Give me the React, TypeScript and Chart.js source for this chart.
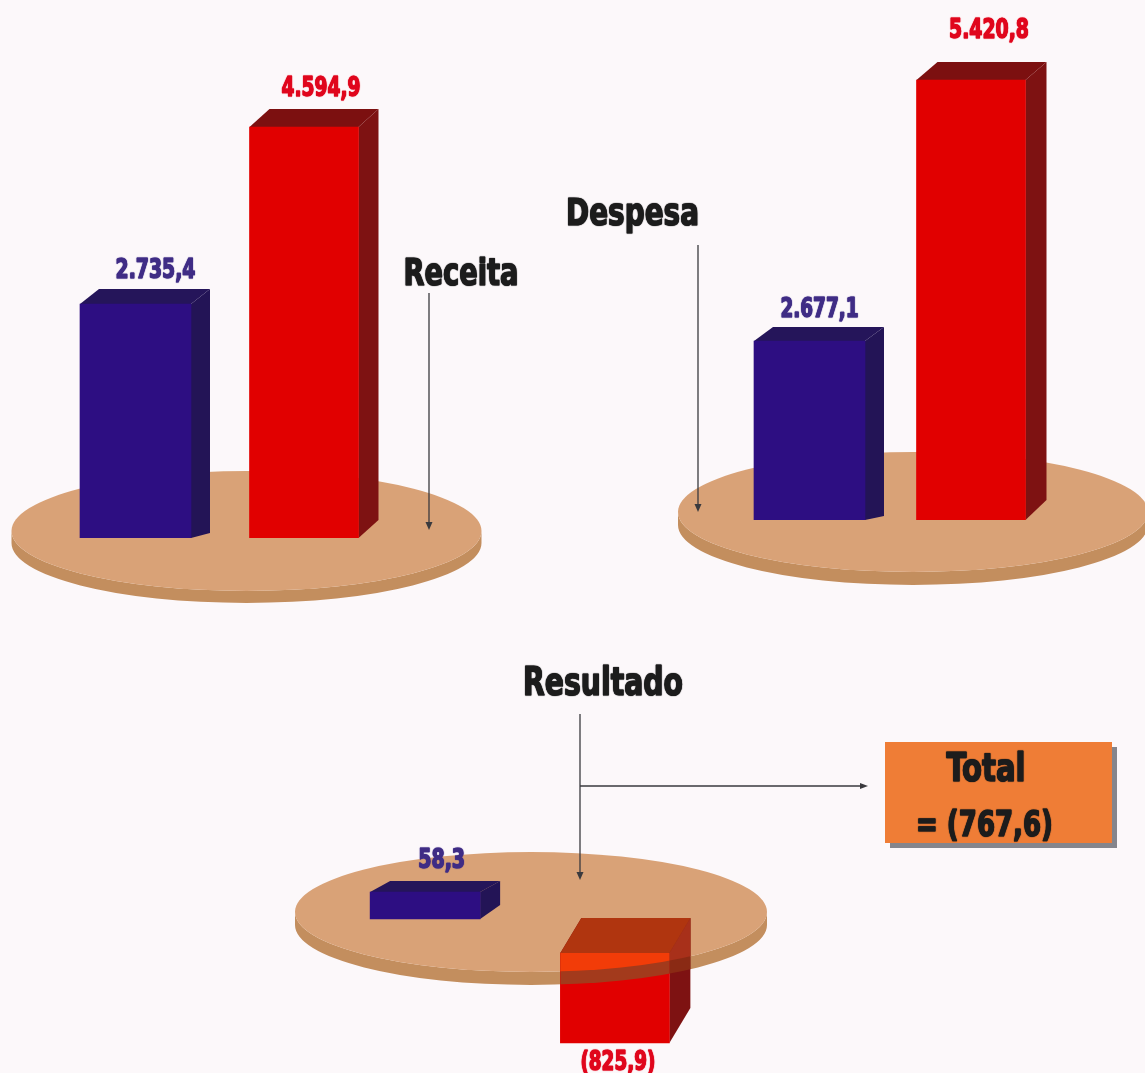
import React, { useEffect, useRef } from "react";
import { Chart, registerables } from "chart.js";

Chart.register(...registerables);

// ---- Data ----
const categories = ["Azul", "Vermelho"];
const receitaValues = [2735.4, 4594.9];
const despesaValues = [2677.1, 5420.8];
const resultadoValues = [58.3, -825.9];
const totalLabel = "= (767,6)";

// ---- Colours ----
const PAGE = "#fcf8fa";
const BLUE = { front: "#2d0e82", side: "#231456", top: "#25155a" };
const RED = { front: "#e10000", side: "#7e1212", top: "#7c1010" };
const PLATE_TOP = "#d9a277";
const PLATE_EDGE = "#c38e5e";
const INK = "#1c1c1c";
const BLUE_TEXT = "#3f2c85";
const RED_TEXT = "#e0061c";
const FONT = '"Liberation Sans Narrow", "DejaVu Sans Condensed", sans-serif';

function fmt(v: number) {
  const s = Math.abs(v).toFixed(1).replace(".", ",");
  const [i, d] = s.split(",");
  const t = i.replace(/\B(?=(\d{3})+$)/g, ".");
  return v < 0 ? `(${t},${d})` : `${t},${d}`;
}

function text(ctx: any, str: string, cx: number, base: number, width: number, size: number, color: string, heavy = 1.1) {
  ctx.save();
  ctx.font = `bold ${size}px ${FONT}`;
  ctx.textAlign = "left";
  ctx.textBaseline = "alphabetic";
  const w = ctx.measureText(str).width;
  const k = width / w;
  ctx.translate(cx - width / 2, base);
  ctx.scale(k, 1);
  ctx.fillStyle = color;
  ctx.strokeStyle = color;
  ctx.lineWidth = heavy;
  ctx.lineJoin = "round";
  ctx.shadowColor = color;
  ctx.shadowBlur = 1;
  ctx.strokeText(str, 0, 0);
  ctx.fillText(str, 0, 0);
  ctx.restore();
}

function arrowV(ctx: any, x: number, y0: number, y1: number) {
  ctx.save();
  ctx.strokeStyle = "#3a3a3e";
  ctx.fillStyle = "#3a3a3e";
  ctx.lineWidth = 1.3;
  ctx.beginPath();
  ctx.moveTo(x, y0);
  ctx.lineTo(x, y1 - 6);
  ctx.stroke();
  ctx.beginPath();
  ctx.moveTo(x - 3.5, y1 - 8);
  ctx.lineTo(x + 3.5, y1 - 8);
  ctx.lineTo(x, y1);
  ctx.closePath();
  ctx.fill();
  ctx.restore();
}

function plate(ctx: any, p: any) {
  ctx.save();
  ctx.fillStyle = PLATE_EDGE;
  ctx.beginPath();
  ctx.ellipse(p.cx, p.cy + p.t, p.rx, p.ry, 0, 0, Math.PI);
  ctx.lineTo(p.cx - p.rx, p.cy);
  ctx.ellipse(p.cx, p.cy, p.rx, p.ry, 0, Math.PI, 0, true);
  ctx.closePath();
  ctx.fill();
  ctx.fillStyle = PLATE_TOP;
  ctx.beginPath();
  ctx.ellipse(p.cx, p.cy, p.rx, p.ry, 0, 0, Math.PI * 2);
  ctx.fill();
  ctx.restore();
}

function poly(ctx: any, pts: number[][], color: string) {
  ctx.fillStyle = color;
  ctx.beginPath();
  pts.forEach(([x, y], i) => (i ? ctx.lineTo(x, y) : ctx.moveTo(x, y)));
  ctx.closePath();
  ctx.fill();
}

function boxFaces(bar: any, d: any) {
  const l = bar.x - bar.width / 2;
  const r = bar.x + bar.width / 2;
  const top = Math.min(bar.y, bar.base);
  const bot = Math.max(bar.y, bar.base);
  return {
    l, r, top, bot,
    side: [[r, top], [r + d.dx, top - d.dy], [r + d.dx, bot - d.bd], [r, bot]],
    topFace: [[l, top], [l + d.dx, top - d.dy], [r + d.dx, top - d.dy], [r, top]],
    front: [[l, top], [r, top], [r, bot], [l, bot]],
  };
}

const panels: any[] = [
  {
    values: receitaValues,
    padding: { left: 51.25, right: 1145 - 388.25, top: 40, bottom: 1073 - 538 },
    blueAxis: { min: 0, max: 5821.6 },
    redAxis: { min: 0, max: 5567.6 },
    thickness: [111, 109],
    plate: { cx: 246.5, cy: 531, rx: 235, ry: 60, t: 12 },
    depth: [{ dx: 19, dy: 15, bd: 5 }, { dx: 20, dy: 18, bd: 18 }],
    label: [{ dx: 20, up: 27, w: 80 }, { dx: 17, up: 32, w: 79 }],
    extra: (ctx: any) => {
      text(ctx, "Receita", 461, 285, 115, 38, INK);
      arrowV(ctx, 429, 293, 530);
    },
  },
  {
    values: despesaValues,
    padding: { left: 728.75, right: 1145 - 1051.75, top: 40, bottom: 1073 - 520 },
    blueAxis: { min: 0, max: 7178.8 },
    redAxis: { min: 0, max: 5913.6 },
    thickness: [111, 109],
    plate: { cx: 913, cy: 512, rx: 235, ry: 60, t: 13 },
    depth: [{ dx: 19, dy: 14, bd: 4 }, { dx: 21, dy: 18, bd: 20 }],
    label: [{ dx: 10, up: 25, w: 78 }, { dx: 18, up: 43, w: 80 }],
    extra: (ctx: any) => {
      text(ctx, "Despesa", 632.5, 225, 133, 38, INK);
      arrowV(ctx, 698, 245, 512);
    },
  },
  {
    values: resultadoValues,
    padding: { left: 330.25, right: 1145 - 709.75, top: 853, bottom: 20 },
    blueAxis: { min: -289.4, max: 142.5 },
    redAxis: { min: -917.7, max: 917.7 },
    thickness: [110, 109],
    plate: { cx: 531, cy: 912, rx: 236, ry: 60, t: 13 },
    depth: [{ dx: 20, dy: 11, bd: 14 }, { dx: 21, dy: 35, bd: 35 }],
    label: [{ dx: 16.5, up: 25, w: 47 }, { dx: 3, up: -26, w: 75 }],
    tint: {
      surface: { front: "#f23c08", side: "#a8301a", top: "#b0350f" },
      edge: { front: "#a33a1c", side: "#8a2a14", top: "#b0350f" },
    },
    extra: (ctx: any) => {
      text(ctx, "Resultado", 603, 695, 160, 39, INK);
      ctx.save();
      ctx.strokeStyle = "#3a3a3e";
      ctx.fillStyle = "#3a3a3e";
      ctx.lineWidth = 1.3;
      ctx.beginPath();
      ctx.moveTo(580, 786);
      ctx.lineTo(862, 786);
      ctx.stroke();
      ctx.beginPath();
      ctx.moveTo(860, 783);
      ctx.lineTo(860, 789);
      ctx.lineTo(868, 786);
      ctx.closePath();
      ctx.fill();
      ctx.fillStyle = "#85858c";
      ctx.fillRect(890, 747, 227, 101);
      ctx.fillStyle = "#ef7d36";
      ctx.fillRect(885, 742, 227, 101);
      ctx.restore();
      arrowV(ctx, 580, 714, 880);
      text(ctx, "Total", 986, 781, 79, 39, INK);
      text(ctx, totalLabel, 984.5, 836, 137, 36, INK);
    },
  },
];

function makePlugin(p: any) {
  return {
    id: "box3d",
    beforeDatasetsDraw(chart: any) {
      const ctx = chart.ctx;
      ctx.save();
      plate(ctx, p.plate);
      [0, 1].forEach((ds) => {
        const bar = chart.getDatasetMeta(ds).data[ds];
        const f = boxFaces(bar, p.depth[ds]);
        const c = ds === 0 ? BLUE : RED;
        poly(ctx, f.side, c.side);
        poly(ctx, f.topFace, c.top);
      });
      ctx.restore();
    },
    afterDatasetsDraw(chart: any) {
      const ctx = chart.ctx;
      if (p.tint) {
        const bar = chart.getDatasetMeta(1).data[1];
        const f = boxFaces(bar, p.depth[1]);
        const pl = p.plate;
        // the plate rim, seen through the bar
        ctx.save();
        ctx.beginPath();
        ctx.ellipse(pl.cx, pl.cy + pl.t, pl.rx, pl.ry, 0, 0, Math.PI * 2);
        ctx.clip();
        poly(ctx, f.side, p.tint.edge.side);
        poly(ctx, f.front, p.tint.edge.front);
        ctx.restore();
        // the plate surface, seen through the bar
        ctx.save();
        ctx.beginPath();
        ctx.ellipse(pl.cx, pl.cy, pl.rx, pl.ry, 0, 0, Math.PI * 2);
        ctx.clip();
        poly(ctx, f.side, p.tint.surface.side);
        poly(ctx, f.topFace, p.tint.surface.top);
        poly(ctx, f.front, p.tint.surface.front);
        ctx.restore();
      }
      p.extra(ctx);
      [0, 1].forEach((ds) => {
        const bar = chart.getDatasetMeta(ds).data[ds];
        const l = p.label[ds];
        text(ctx, fmt(p.values[ds]), bar.x + l.dx, bar.y - l.up + 1, l.w, 26, ds === 0 ? BLUE_TEXT : RED_TEXT, 1);
      });
    },
  };
}

function Panel({ p }: { p: any }) {
  const ref = useRef<HTMLCanvasElement | null>(null);
  useEffect(() => {
    const chart = new Chart(ref.current as any, {
      type: "bar",
      data: {
        labels: categories,
        datasets: [
          {
            data: [p.values[0], null],
            backgroundColor: BLUE.front,
            yAxisID: "yBlue",
            barThickness: p.thickness[0],
          },
          {
            data: [null, p.values[1]],
            backgroundColor: RED.front,
            yAxisID: "yRed",
            barThickness: p.thickness[1],
          },
        ],
      },
      options: {
        responsive: false,
        animation: false,
        layout: { padding: p.padding },
        datasets: { bar: { grouped: false } },
        plugins: { legend: { display: false }, tooltip: { enabled: false }, title: { display: false } },
        scales: {
          x: { display: false },
          yBlue: { display: false, min: p.blueAxis.min, max: p.blueAxis.max },
          yRed: { display: false, min: p.redAxis.min, max: p.redAxis.max },
        },
      } as any,
      plugins: [makePlugin(p)],
    });
    return () => chart.destroy();
  }, [p]);
  return (
    <canvas
      ref={ref}
      width={1145}
      height={1073}
      style={{ position: "absolute", left: 0, top: 0, display: "block" }}
    />
  );
}

export default function App() {
  return (
    <div style={{ position: "absolute", left: 0, top: 0, width: 1145, height: 1073, background: PAGE, overflow: "hidden" }}>
      {panels.map((p, i) => (
        <Panel key={i} p={p} />
      ))}
    </div>
  );
}
